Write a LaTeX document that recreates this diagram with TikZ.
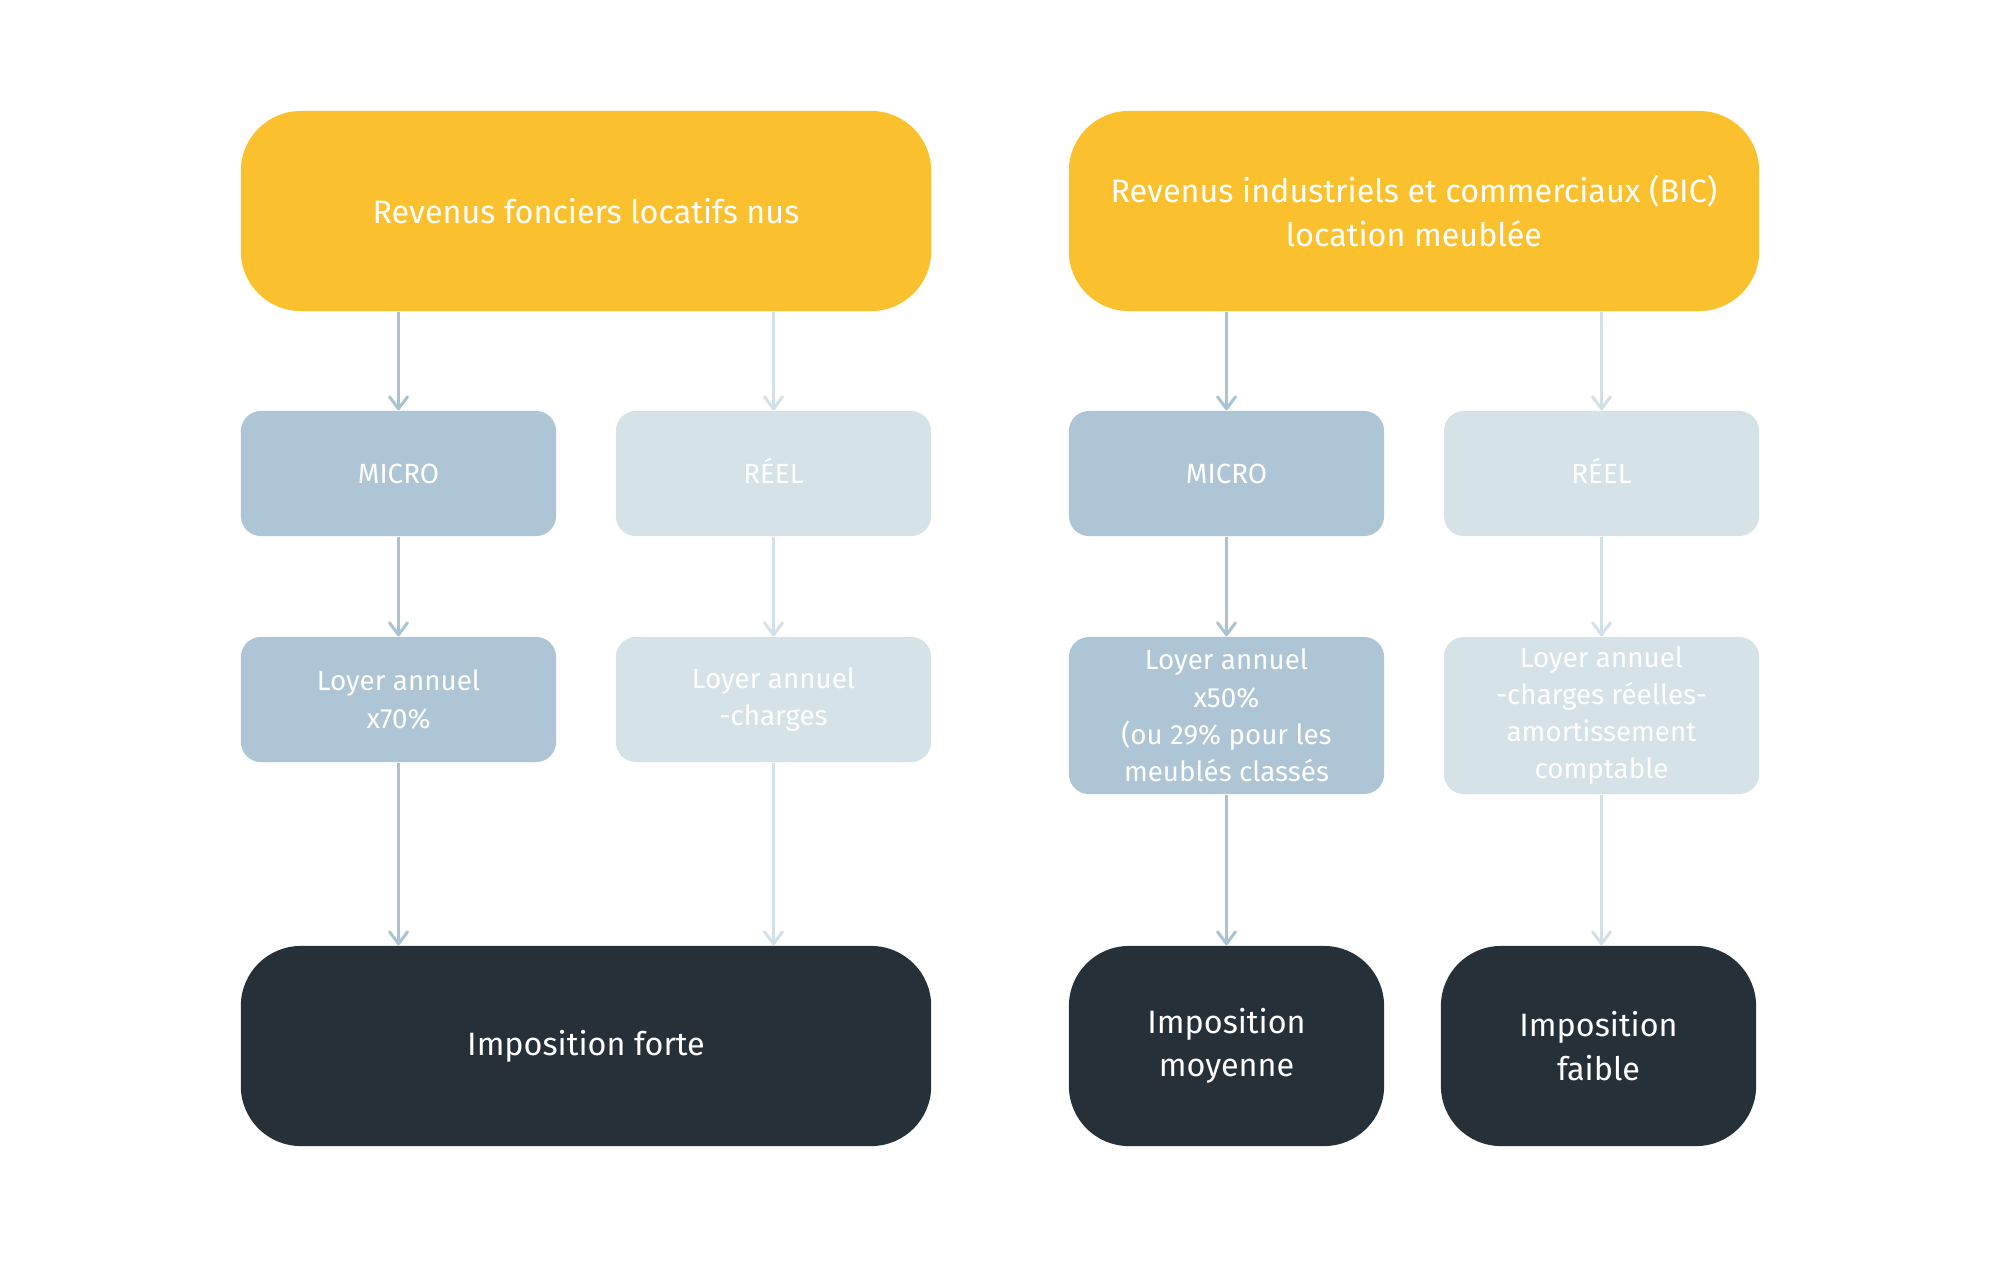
\documentclass[tikz,border=0pt]{standalone}
\usepackage{fontspec}
\setmainfont{Fira Sans}
\usetikzlibrary{arrows.meta}
\definecolor{cyellow}{HTML}{FBC02D}
\definecolor{cmicro}{HTML}{ADC5D4}
\definecolor{creel}{HTML}{D5E2E8}
\definecolor{cdark}{HTML}{263039}
\definecolor{amicro}{HTML}{A9C3D2}
\definecolor{areel}{HTML}{D3E0E7}
\begin{document}
\begin{tikzpicture}[x=0.01cm,y=-0.01cm,
  bigbox/.style={rounded corners=0.6cm, minimum width=6.9cm, minimum height=2cm, text=white, align=center, inner sep=0pt, font=\fontsize{9.2}{12.4}\selectfont},
  topbox/.style={bigbox, fill=cyellow},
  darkbox/.style={bigbox, fill=cdark},
  smallbox/.style={rounded corners=0.2cm, minimum width=3.15cm, minimum height=1.25cm, text=white, align=center, inner sep=0pt, font=\fontsize{7.9}{10.6}\selectfont},
  microbox/.style={smallbox, fill=cmicro},
  reelbox/.style={smallbox, fill=creel},
  arr/.style={line width=0.85pt, -{Straight Barb[length=1.2mm,width=1.8mm,round]}},
  amic/.style={arr, draw=amicro},
  areel/.style={arr, draw=areel}]
\path[use as bounding box, fill=white] (0,0) rectangle (2000,1260);

% top boxes
\node[topbox] (y1) at (586,211) {Revenus fonciers locatifs nus};
\node[topbox] (y2) at (1414,211) {Revenus industriels et commerciaux (BIC)\\location meublée};

% regime boxes
\node[microbox] (m1) at (398.5,473.5) {MICRO};
\node[reelbox] (r1) at (773.5,473.5) {R\smash{É}EL};
\node[microbox] (m2) at (1226.5,473.5) {MICRO};
\node[reelbox] (r2) at (1601.5,473.5) {R\smash{É}EL};

% calculation boxes
\node[microbox] (l1) at (398.5,699.5) {Loyer annuel\\x70\%};
\node[reelbox] (l2) at (773.5,699.5) {Loyer annuel\\-charges};
\node[microbox, minimum height=1.57cm] (l3) at (1226.5,715.5) {Loyer annuel\\x50\%\\(ou 29\% pour les\\meublés classés};
\node[reelbox, minimum height=1.57cm] (l4) at (1601.5,715.5) {Loyer annuel\\-charges réelles-\\amortissement\\comptable};

% result boxes
\node[darkbox] (d1) at (586,1046) {Imposition forte};
\node[darkbox, minimum width=3.15cm] (d2) at (1226.5,1046) {Imposition\\moyenne};
\node[darkbox, minimum width=3.15cm] (d3) at (1598.5,1046) {Imposition\\faible};

% arrows
\draw[amic] (y1.south -| m1.north) -- (m1.north);
\draw[areel] (y1.south -| r1.north) -- (r1.north);
\draw[amic] (y2.south -| m2.north) -- (m2.north);
\draw[areel] (y2.south -| r2.north) -- (r2.north);

\draw[amic] (m1.south) -- (l1.north);
\draw[areel] (r1.south) -- (l2.north);
\draw[amic] (m2.south) -- (l3.north);
\draw[areel] (r2.south) -- (l4.north);

\draw[amic] (l1.south) -- (d1.north -| l1.south);
\draw[areel] (l2.south) -- (d1.north -| l2.south);
\draw[amic] (l3.south) -- (d2.north);
\draw[areel] (l4.south) -- (d3.north -| l4.south);
\end{tikzpicture}
\end{document}
